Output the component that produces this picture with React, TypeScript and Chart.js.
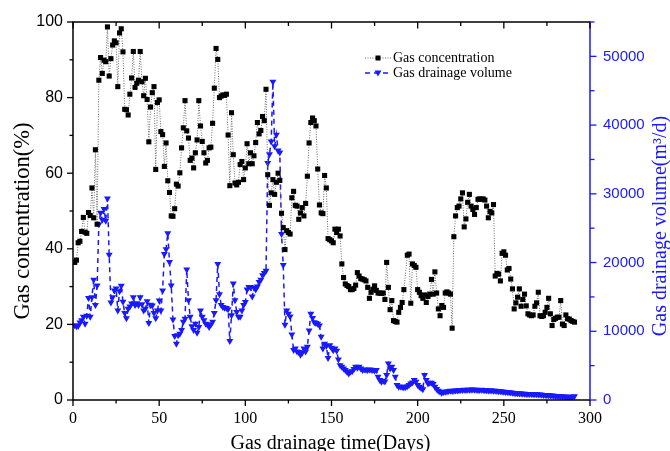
import { useEffect, useRef } from 'react';
import { Chart, registerables } from 'chart.js';

Chart.register(...registerables);

// Day index of each daily record (x category)
const days: number[] = Array.from({ length: 291 }, (_, i) => i + 1);

// Gas concentration (%) per day, day 1..291 (null = no reading)
const concentration: (number | null)[] = [
  36.4, 37.0, 41.6, 42.0, 44.6, 48.3, 44.4, 44.1, 49.6, 48.8,
  56.1, 48.2, 66.2, 46.5, 84.6, 90.6, 86.4, 89.9, 89.5, 98.7,
  85.7, 90.3, 93.9, 95.0, 94.5, 82.9, 97.1, 98.2, 92.1, 76.9,
  76.8, 75.4, 80.9, 85.2, 92.2, 82.7, 83.8, 84.6, 92.2, 84.2,
  80.5, 85.1, 79.5, 68.3, 77.5, 81.3, 82.9, 61.0, 78.7, 79.4,
  71.0, 70.2, 61.8, 68.0, 58.0, 54.9, 48.7, 48.6, 50.6, 57.1,
  56.6, 60.1, 66.7, 72.0, 79.2, 71.2, 69.3, 63.4, 64.0, 61.4,
  65.4, 68.8, 79.2, 72.5, 68.4, 65.4, 62.7, 63.4, 66.7, 66.9,
  73.2, 82.5, 93.0, 90.1, 80.0, 80.4, 80.7, 80.6, 80.9, 70.1,
  56.7, 76.0, 64.9, 57.4, 56.9, 57.6, 62.3, 63.1, 58.3, 61.4,
  67.8, 62.5, 65.4, 62.5, 64.6, 68.1, 73.4, 70.4, 71.3, 75.0,
  73.9, 82.2, 59.6, 51.5, 54.8, 58.3, 54.4, 57.6, 60.0, 58.1,
  49.4, 45.6, 39.8, 44.8, 44.3, 43.9, 53.5, 55.2, 51.5, 51.3,
  47.8, 49.5, 50.9, 48.7, 52.0, 59.2, 68.0, 73.4, 74.6, 73.9,
  72.5, 61.1, 51.6, 49.5, 49.3, 59.4, 56.1, 42.7, 42.4, 42.1,
  41.6, 45.2, 44.3, 45.2, 43.4, 36.0, 32.4, 30.7, 30.3, 30.0,
  29.2, 29.2, 29.5, 30.4, 33.7, 32.8, 32.1, 32.0, 31.8, 31.5,
  29.8, 26.9, 28.5, 29.3, 30.2, 29.0, 28.3, 28.3, 28.2, 28.3,
  26.6, 36.4, 29.8, 23.9, 26.3, 21.0, 20.8, 20.6, 23.2, 24.5,
  25.8, 29.2, null, 38.3, 38.6, 25.6, 36.0, 35.6, 35.1, 29.2,
  28.5, 27.6, 26.9, 27.8, 25.8, 27.4, 28.0, 31.9, 28.0, 33.9,
  28.3, 24.1, 22.3, 25.0, 24.5, 28.3, 28.6, 28.3, 28.0, 19.0,
  43.2, 48.7, 50.9, 51.3, 53.2, 54.8, 45.8, 47.9, 52.3, 54.4,
  51.3, 50.4, 49.1, 50.9, 53.1, 53.2, 53.1, 53.2, 52.9, 51.3,
  48.2, 49.9, 49.5, 51.7, 32.8, 33.5, 33.3, 31.5, 38.8, 39.2,
  38.3, 34.4, 34.8, 32.0, 29.4, 24.1, 25.7, 27.2, 29.4, 24.8,
  26.6, 28.0, 24.9, 22.8, 22.5, 22.3, 22.5, 24.8, 25.7, 28.5,
  22.3, 22.1, 22.3, 23.2, 24.5, 26.9, 22.8, 19.7, 21.3, 21.6,
  21.9, 21.9, 26.3, 20.1, 19.7, 22.5, 21.5, 21.4, 21.0, 20.8,
  20.6,
];

// Gas drainage volume (m3/d) per day, day 1..291
const drainageVolume: number[] = [
  10890, 10730, 10780, 11280, 11610, 12100, 11110, 12270, 14850, 12100,
  14960, 17490, 13810, 16670, 25580, 27230, 26240, 27780, 26070, 29320,
  21120, 14190, 14960, 15950, 16230, 13040, 15840, 16610, 14300, 12650,
  11880, 13260, 13590, 14030, 14960, 13810, 14080, 13810, 14960, 13920,
  13040, 13260, 14360, 11220, 13860, 13750, 12650, 11880, 13040, 14470,
  13040, 15950, 21230, 21950, 24260, 20080, 16670, 11720, 9300, 8200,
  9410, 9630, 10180, 11390, 11830, 18980, 14520, 12100, 10730, 10180,
  11110, 9790, 10620, 13040, 12100, 11610, 11110, 11000, 10620, 11000,
  11390, 12650, 14520, 19800, 15400, 13810, 13530, 13420, 13370, 13200,
  8580, 12320, 16940, 14520, 12820, 12100, 12100, 13040, 13810, 14250,
  16060, 16450, 16450, 15070, 16340, 16060, 16500, 17160, 17490, 18150,
  18480, 18810, 34490, 35750, 37620, 46310, 36910, 38610, 36300, 36030,
  24150, 19640, 10950, 13040, 12540, 12160, 9520, 7260, 7480, 7040,
  6990, 6600, 6880, 7480, 7040, 7760, 10120, 12540, 11940, 11330,
  11220, 11110, 10840, 9190, 7480, 8200, 7870, 6110, 7970, 7600,
  7250, 7490, 7150, 5890, 5070, 4830, 4600, 4350, 4100, 3860,
  4100, 4200, 4500, 4830, 4700, 4830, 4590, 4350, 4450, 4400,
  4350, 4450, 4400, 4350, 4300, 4350, 3380, 2900, 2660, 2800,
  2700, 3620, 5310, 4590, 4830, 4350, 3380, 2170, 1930, 1950,
  1900, 1840, 1900, 2000, 2170, 2400, 2550, 2900, 2660, 2170,
  1930, 1750, 1550, 3620, 2900, 2400, 2500, 2510, 2320, 1930,
  1600, 1350, 1200, 1060, 1150, 1210, 1250, 1300, 1350, 1300,
  1350, 1400, 1380, 1420, 1450, 1450, 1480, 1460, 1500, 1480,
  1500, 1520, 1480, 1500, 1470, 1460, 1480, 1450, 1430, 1420,
  1400, 1380, 1390, 1350, 1330, 1300, 1290, 1260, 1230, 1210,
  1180, 1150, 1120, 1100, 1060, 1030, 1000, 980, 950, 930,
  920, 900, 890, 880, 870, 860, 850, 830, 820, 800,
  790, 760, 740, 720, 700, 690, 670, 650, 630, 600,
  580, 560, 540, 520, 500, 490, 470, 460, 450, 480,
  560,
];

// Right-axis labelled ticks
const volumeTicks: number[] = [0, 10000, 20000, 30000, 40000, 50000];

const seriesNames = ['Gas concentration', 'Gas drainage volume'];
const xTitle = 'Gas drainage time(Days)';
const yTitle = 'Gas concentration(%)';
const y1Title = 'Gas drainage volume(m\u00B3/d)';

const BLUE = 'rgb(25,25,255)';
const SERIF = "'Liberation Serif', 'Times New Roman', serif";
const SANS = "'Liberation Sans', Arial, sans-serif";

const framePlugin = {
  id: 'frame',
  afterDraw(chart: any) {
    const { ctx, chartArea, scales } = chart;
    const { left, right, top, bottom } = chartArea;
    const xs = scales.x, ys = scales.y, y2 = scales.y1;
    ctx.save();
    ctx.lineWidth = 1.5;
    ctx.lineCap = 'butt';
    ctx.strokeStyle = '#000';
    ctx.beginPath();
    ctx.moveTo(right, top); ctx.lineTo(left, top); ctx.lineTo(left, bottom); ctx.lineTo(right, bottom);
    ctx.stroke();
    ctx.strokeStyle = BLUE;
    ctx.beginPath();
    ctx.moveTo(right, top - 0.75); ctx.lineTo(right, bottom + 0.75);
    ctx.stroke();
    ctx.strokeStyle = '#000';
    ctx.lineWidth = 1.3;
    for (let v = xs.min; v <= xs.max; v += 25) {
      const px = xs.getPixelForValue(v);
      const major = v % 50 === 0;
      ctx.beginPath();
      ctx.moveTo(px, bottom); ctx.lineTo(px, bottom + (major ? 6 : 3.5));
      ctx.moveTo(px, top); ctx.lineTo(px, top + (major ? 6.5 : 4));
      ctx.stroke();
    }
    for (let v = ys.min; v <= ys.max; v += 10) {
      const py = ys.getPixelForValue(v);
      const major = v % 20 === 0;
      ctx.beginPath();
      ctx.moveTo(left, py); ctx.lineTo(left - (major ? 6 : 3.5), py);
      ctx.stroke();
    }
    ctx.strokeStyle = BLUE;
    for (let v = y2.min; v <= y2.max; v += 5000) {
      const py = y2.getPixelForValue(v);
      const major = v % 10000 === 0;
      ctx.beginPath();
      ctx.moveTo(right, py); ctx.lineTo(right + (major ? 6.5 : 4.5), py);
      ctx.stroke();
    }
    ctx.fillStyle = '#000';
    ctx.textAlign = 'center';
    ctx.textBaseline = 'alphabetic';
    ctx.font = `20px ${SERIF}`;
    ctx.fillText(xTitle, (left + right) / 2 - 1, 449);
    ctx.save();
    ctx.translate(23, 221);
    ctx.rotate(-Math.PI / 2);
    ctx.textBaseline = 'middle';
    ctx.font = `22.5px ${SERIF}`;
    ctx.fillText(yTitle, 0, 0);
    ctx.restore();
    ctx.save();
    ctx.translate(661, 226);
    ctx.rotate(-Math.PI / 2);
    ctx.textBaseline = 'middle';
    ctx.fillStyle = BLUE;
    ctx.font = `20px ${SERIF}`;
    ctx.fillText(y1Title, 0, 0);
    ctx.restore();
    const lx0 = 365, lx1 = 392, lmx = 378;
    const row1 = 58, row2 = 73;
    ctx.lineWidth = 1;
    ctx.strokeStyle = '#666';
    ctx.setLineDash([1, 1.5]);
    ctx.beginPath(); ctx.moveTo(lx0, row1); ctx.lineTo(lx1, row1); ctx.stroke();
    ctx.setLineDash([]);
    ctx.fillStyle = '#000';
    ctx.fillRect(lmx - 2.5, row1 - 2.5, 5, 5);
    ctx.strokeStyle = BLUE;
    ctx.lineWidth = 1.5;
    ctx.setLineDash([5, 4]);
    ctx.beginPath(); ctx.moveTo(lx0, row2); ctx.lineTo(lx1, row2); ctx.stroke();
    ctx.setLineDash([]);
    ctx.fillStyle = BLUE;
    ctx.beginPath();
    ctx.moveTo(lmx - 3.5, row2 - 2.5); ctx.lineTo(lmx + 3.5, row2 - 2.5); ctx.lineTo(lmx, row2 + 3.5);
    ctx.closePath(); ctx.fill();
    ctx.fillStyle = '#000';
    ctx.font = `14px ${SERIF}`;
    ctx.textAlign = 'left';
    ctx.textBaseline = 'middle';
    ctx.fillText(seriesNames[0], 393, row1);
    ctx.fillText(seriesNames[1], 393, row2);
    ctx.restore();
  },
};

export default function App() {
  const ref = useRef<HTMLCanvasElement | null>(null);
  useEffect(() => {
    if (!ref.current) return;
    const chart = new Chart(ref.current, {
      type: 'line',
      data: {
        datasets: [
          {
            label: seriesNames[0],
            data: days.map((d, i) => ({ x: d, y: concentration[i] })),
            yAxisID: 'y',
            borderColor: '#6a6a6a',
            borderWidth: 1,
            borderDash: [1, 1.5],
            pointStyle: 'rect',
            pointRadius: 3.6,
            pointBackgroundColor: '#000',
            pointBorderColor: '#000',
            pointBorderWidth: 0,
            spanGaps: true,
            tension: 0,
          } as any,
          {
            label: seriesNames[1],
            data: days.map((d, i) => ({ x: d, y: drainageVolume[i] })),
            yAxisID: 'y1',
            borderColor: BLUE,
            borderWidth: 1.5,
            borderDash: [5, 4],
            pointStyle: 'triangle',
            pointRotation: 180,
            pointRadius: 4,
            pointBackgroundColor: BLUE,
            pointBorderColor: BLUE,
            pointBorderWidth: 0,
            tension: 0,
          } as any,
        ],
      },
      options: {
        animation: false,
        responsive: false,
        events: [],
        layout: { padding: { top: 20, left: 0, right: 0, bottom: 0 } },
        plugins: { legend: { display: false }, tooltip: { enabled: false } },
        scales: {
          x: {
            type: 'linear',
            min: 0,
            max: 300,
            grid: { display: false, drawTicks: false },
            border: { display: false },
            ticks: { stepSize: 50, color: '#000', font: { family: SERIF, size: 16 }, padding: 9, maxRotation: 0 },
            afterFit: (s: any) => { s.height = 51; },
          },
          y: {
            type: 'linear',
            position: 'left',
            min: 0,
            max: 100,
            grid: { display: false, drawTicks: false },
            border: { display: false },
            ticks: { stepSize: 20, color: '#000', font: { family: SANS, size: 16 }, padding: 10 },
            afterFit: (s: any) => { s.width = 73; },
          },
          y1: {
            type: 'linear',
            position: 'right',
            min: 0,
            max: 55000,
            grid: { display: false, drawTicks: false },
            border: { display: false },
            ticks: {
              color: BLUE,
              font: { family: SANS, size: 15 },
              padding: 13,
              autoSkip: false,
              callback: (v: any) => String(Math.round(Number(v))),
            },
            afterBuildTicks: (s: any) => { s.ticks = volumeTicks.map((v) => ({ value: v })); },
            afterFit: (s: any) => { s.width = 80; },
          },
        },
      } as any,
      plugins: [framePlugin],
    });
    return () => chart.destroy();
  }, []);
  return (
    <div style={{ position: 'fixed', left: 0, top: 0, width: 670, height: 451, background: '#fff' }}>
      <canvas ref={ref} width={670} height={451} style={{ display: 'block' }} />
    </div>
  );
}
